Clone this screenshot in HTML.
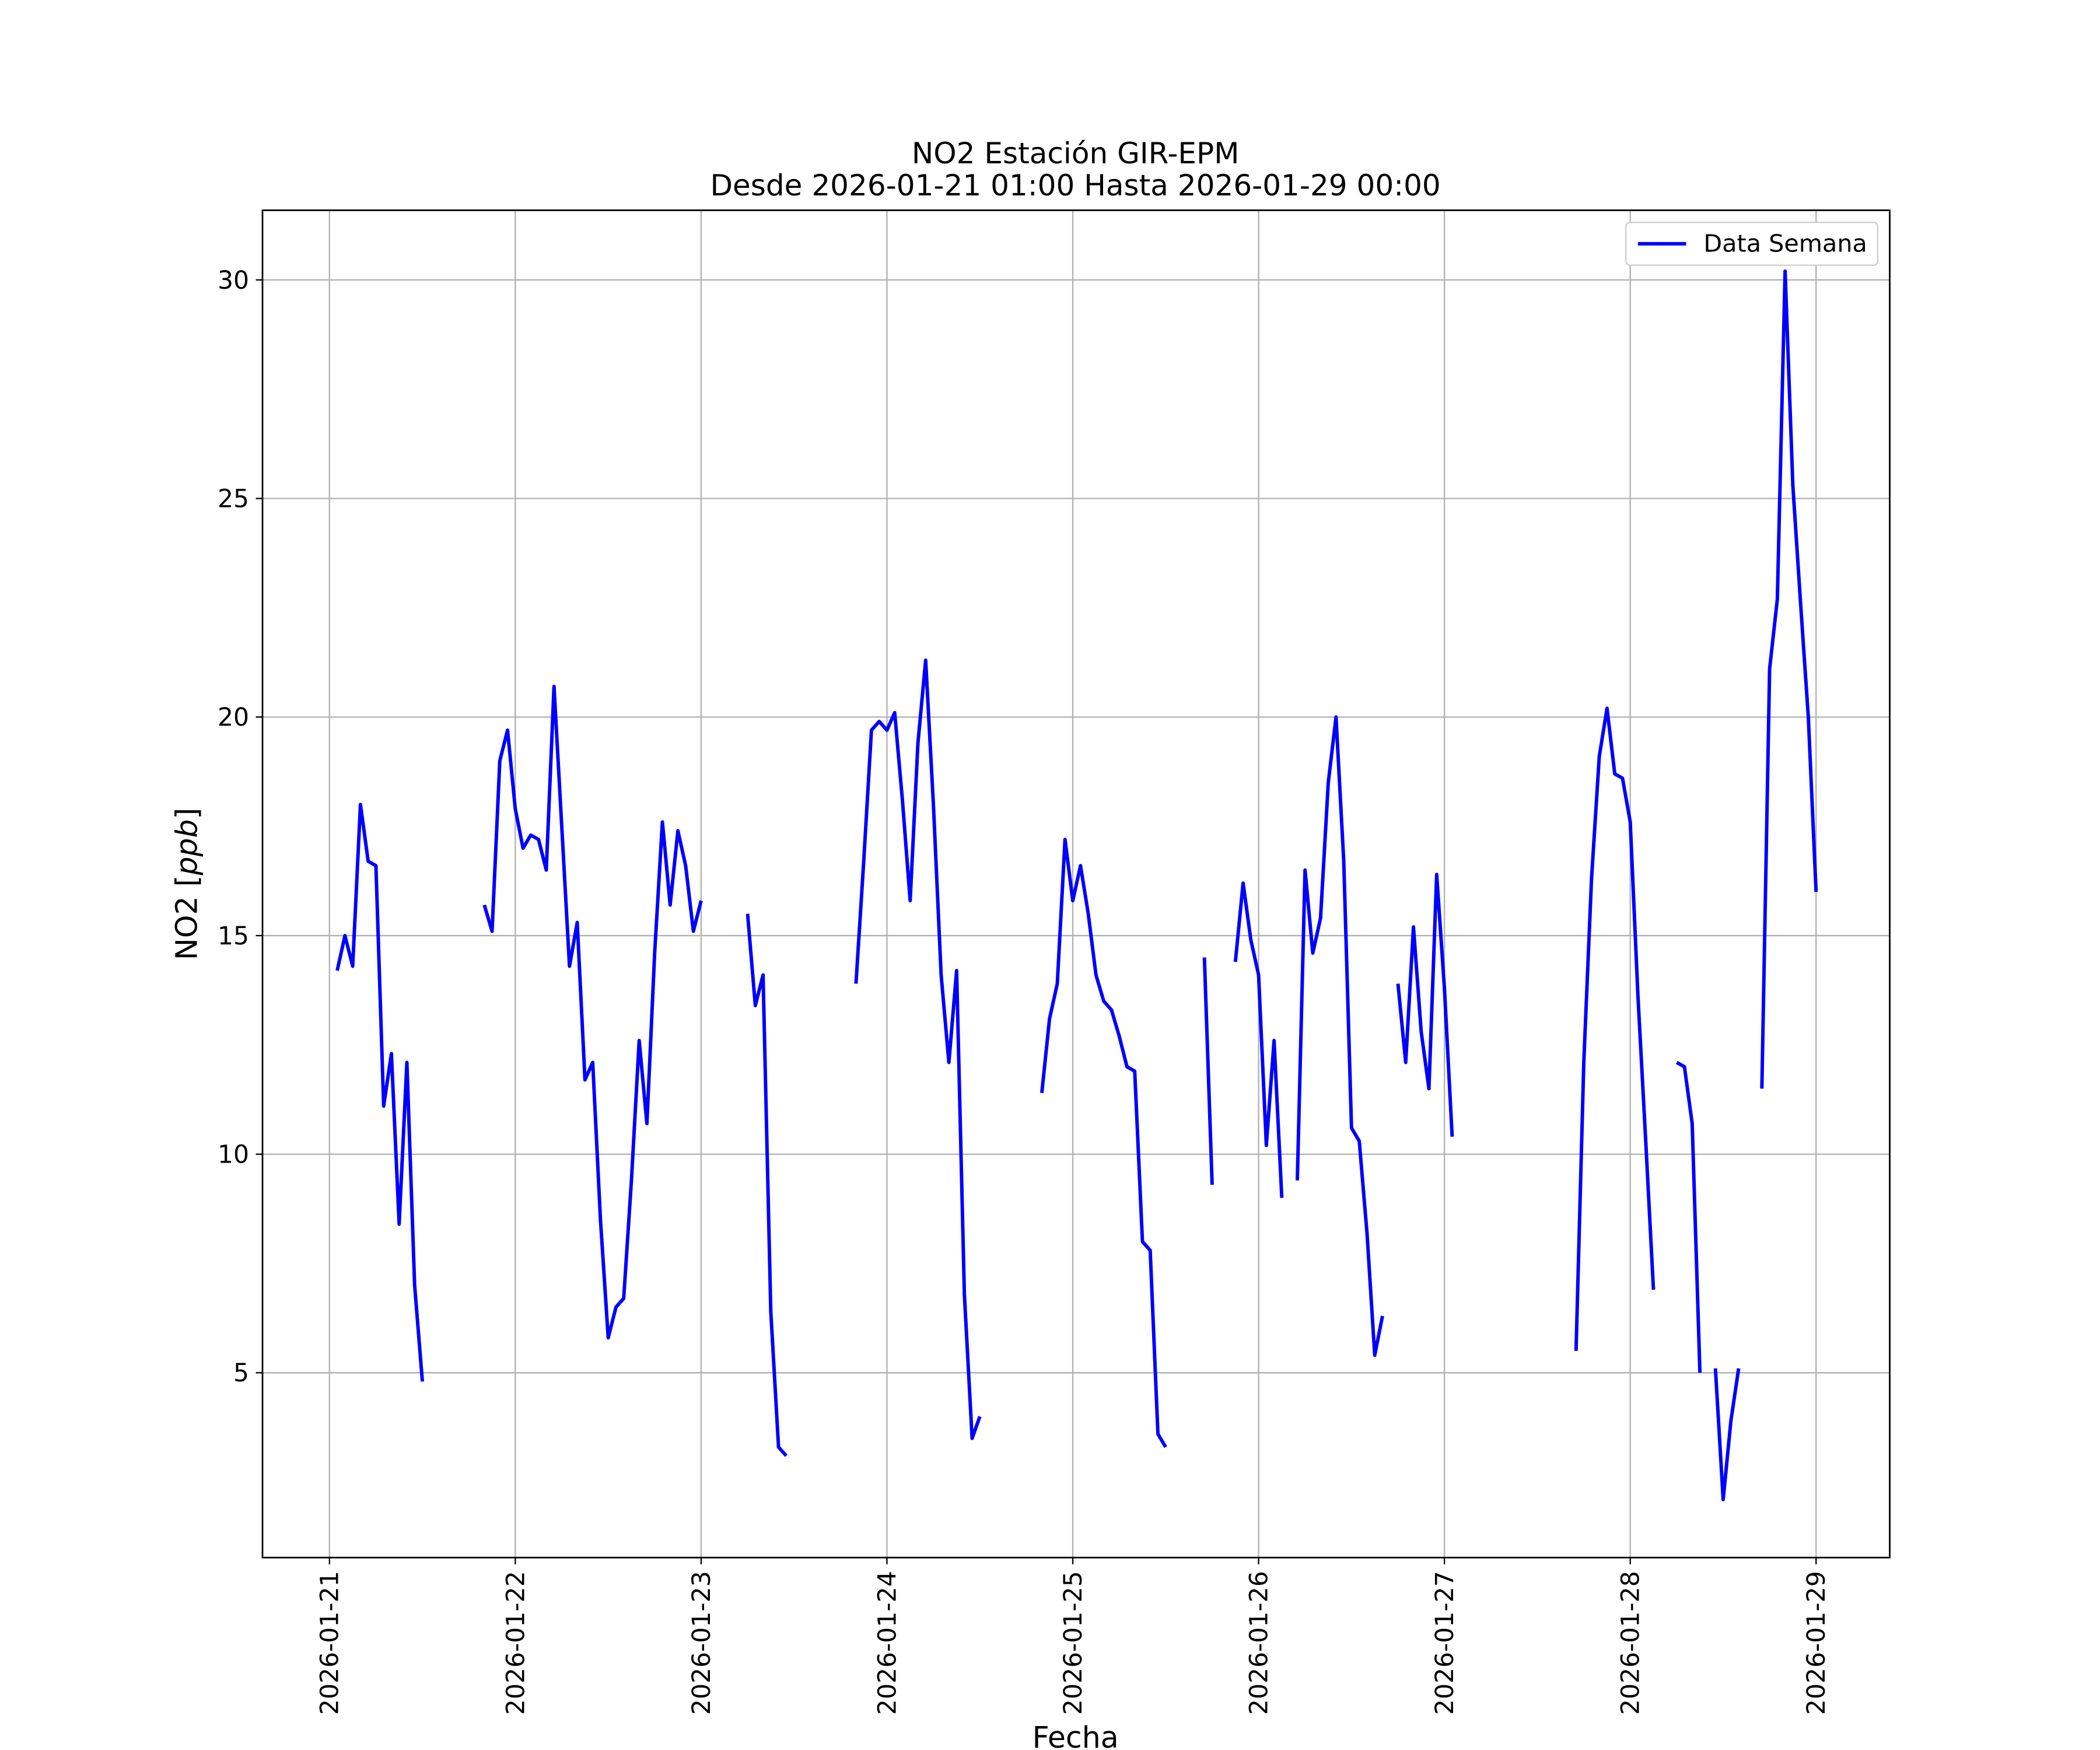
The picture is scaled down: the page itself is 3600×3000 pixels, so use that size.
<!DOCTYPE html>
<html><head><meta charset="utf-8"><style>
html,body{margin:0;padding:0;background:#fff;}
svg{display:block;font-family:"DejaVu Sans","Liberation Sans",sans-serif;}
</style></head><body>
<svg id="chart" width="3600" height="3000" viewBox="0 0 1568 1306.67" xmlns="http://www.w3.org/2000/svg">
<rect width="1568" height="1306.67" fill="#fff"/>
<text x="803" y="122" text-anchor="middle" font-size="21.8">NO2 Estación GIR-EPM</text>
<text x="803" y="146" text-anchor="middle" font-size="21.8">Desde 2026-01-21 01:00 Hasta 2026-01-29 00:00</text>
<g id="grid"></g>
<g id="series"></g>
<rect x="196" y="157" width="1215" height="1006" fill="none" stroke="#000" stroke-width="1.2"/>
<g id="axes"></g>
<text transform="translate(147,660) rotate(-90)" text-anchor="middle" font-size="22">NO2 [<tspan font-style="italic">ppb</tspan>]</text>
<text x="803" y="1305" text-anchor="middle" font-size="22">Fecha</text>
<g>
<rect x="1214" y="166" width="188" height="32" rx="3" fill="#fff" stroke="#ccc" stroke-width="1"/>
<line x1="1223" y1="182" x2="1259" y2="182" stroke="#0000ff" stroke-width="2.6"/>
<text x="1272" y="188" font-size="18">Data Semana</text>
</g>
</svg>
<script>
const yTicks = [5, 10, 15, 20, 25, 30];
const xTickLabels = ["2026-01-21","2026-01-22","2026-01-23","2026-01-24","2026-01-25","2026-01-26","2026-01-27","2026-01-28","2026-01-29"];
const segmentStartHours = [1, 20, 54, 68, 92, 113, 117, 125, 138, 161, 174, 179, 185];
const segmentValues = [
 [14.2,15.0,14.3,18.0,16.7,16.6,11.1,12.3,8.4,12.1,7.0,4.8],
 [15.7,15.1,19.0,19.7,17.9,17.0,17.3,17.2,16.5,20.7,17.5,14.3,15.3,11.7,12.1,8.5,5.8,6.5,6.7,9.4,12.6,10.7,14.6,17.6,15.7,17.4,16.6,15.1,15.8],
 [15.5,13.4,14.1,6.4,3.3,3.1],
 [13.9,16.7,19.7,19.9,19.7,20.1,18.1,15.8,19.4,21.3,18.0,14.1,12.1,14.2,6.8,3.5,4.0],
 [11.4,13.1,13.9,17.2,15.8,16.6,15.5,14.1,13.5,13.3,12.7,12.0,11.9,8.0,7.8,3.6,3.3],
 [14.5,9.3],
 [14.4,16.2,14.9,14.1,10.2,12.6,9.0],
 [9.4,16.5,14.6,15.4,18.5,20.0,16.7,10.6,10.3,8.2,5.4,6.3],
 [13.9,12.1,15.2,12.8,11.5,16.4,13.8,10.4],
 [5.5,12.1,16.3,19.1,20.2,18.7,18.6,17.6,13.6,10.3,6.9],
 [12.1,12.0,10.7,5.0],
 [5.1,2.1,3.9,5.1],
 [11.5,21.1,22.7,30.2,25.3,22.6,20.0,16.0]
];
const NS = "http://www.w3.org/2000/svg";
function xScale(h){ return 246 + h * (1356 - 246) / 192; }
function yScale(v){ return 1025 - (v - 5) * (1025 - 209) / 25; }
function mk(tag, attrs, parent){ const e = document.createElementNS(NS, tag); for (const k in attrs) e.setAttribute(k, attrs[k]); parent.appendChild(e); return e; }
const grid = document.getElementById('grid'), axes = document.getElementById('axes'), series = document.getElementById('series');
yTicks.forEach(v => {
  const y = yScale(v);
  const g = mk('line', {x1:196, x2:1411, y1:y, y2:y, stroke:'#b0b0b0', 'stroke-width':1}, grid);
  
  
  const t = mk('line', {x1:191, x2:196, y1:y, y2:y, stroke:'#000', 'stroke-width':1}, axes);
  
  
  const l = mk('text', {x:186, y:y+6.5, 'text-anchor':'end', 'font-size':18.5}, axes);
  l.textContent = v;
  
  
});
xTickLabels.forEach((lab, i) => {
  const x = xScale(i * 24);
  const g = mk('line', {x1:x, x2:x, y1:157, y2:1163, stroke:'#b0b0b0', 'stroke-width':1}, grid);
  
  
  const t = mk('line', {x1:x, x2:x, y1:1163, y2:1168, stroke:'#000', 'stroke-width':1}, axes);
  
  
  const l = mk('text', {transform:`translate(${x+6.5},1173) rotate(-90)`, 'text-anchor':'end', 'font-size':18.5}, axes);
  l.textContent = lab;
  
  
});
segmentValues.forEach((vals, s) => {
  const pts = vals.map((v, j) => xScale(segmentStartHours[s] + j).toFixed(2) + ',' + yScale(v).toFixed(2)).join(' ');
  const p = mk('polyline', {points:pts, fill:'none', stroke:'#0000ff', 'stroke-width':2.6, 'stroke-linejoin':'round'}, series);
  
  
});
</script>
</body></html>
